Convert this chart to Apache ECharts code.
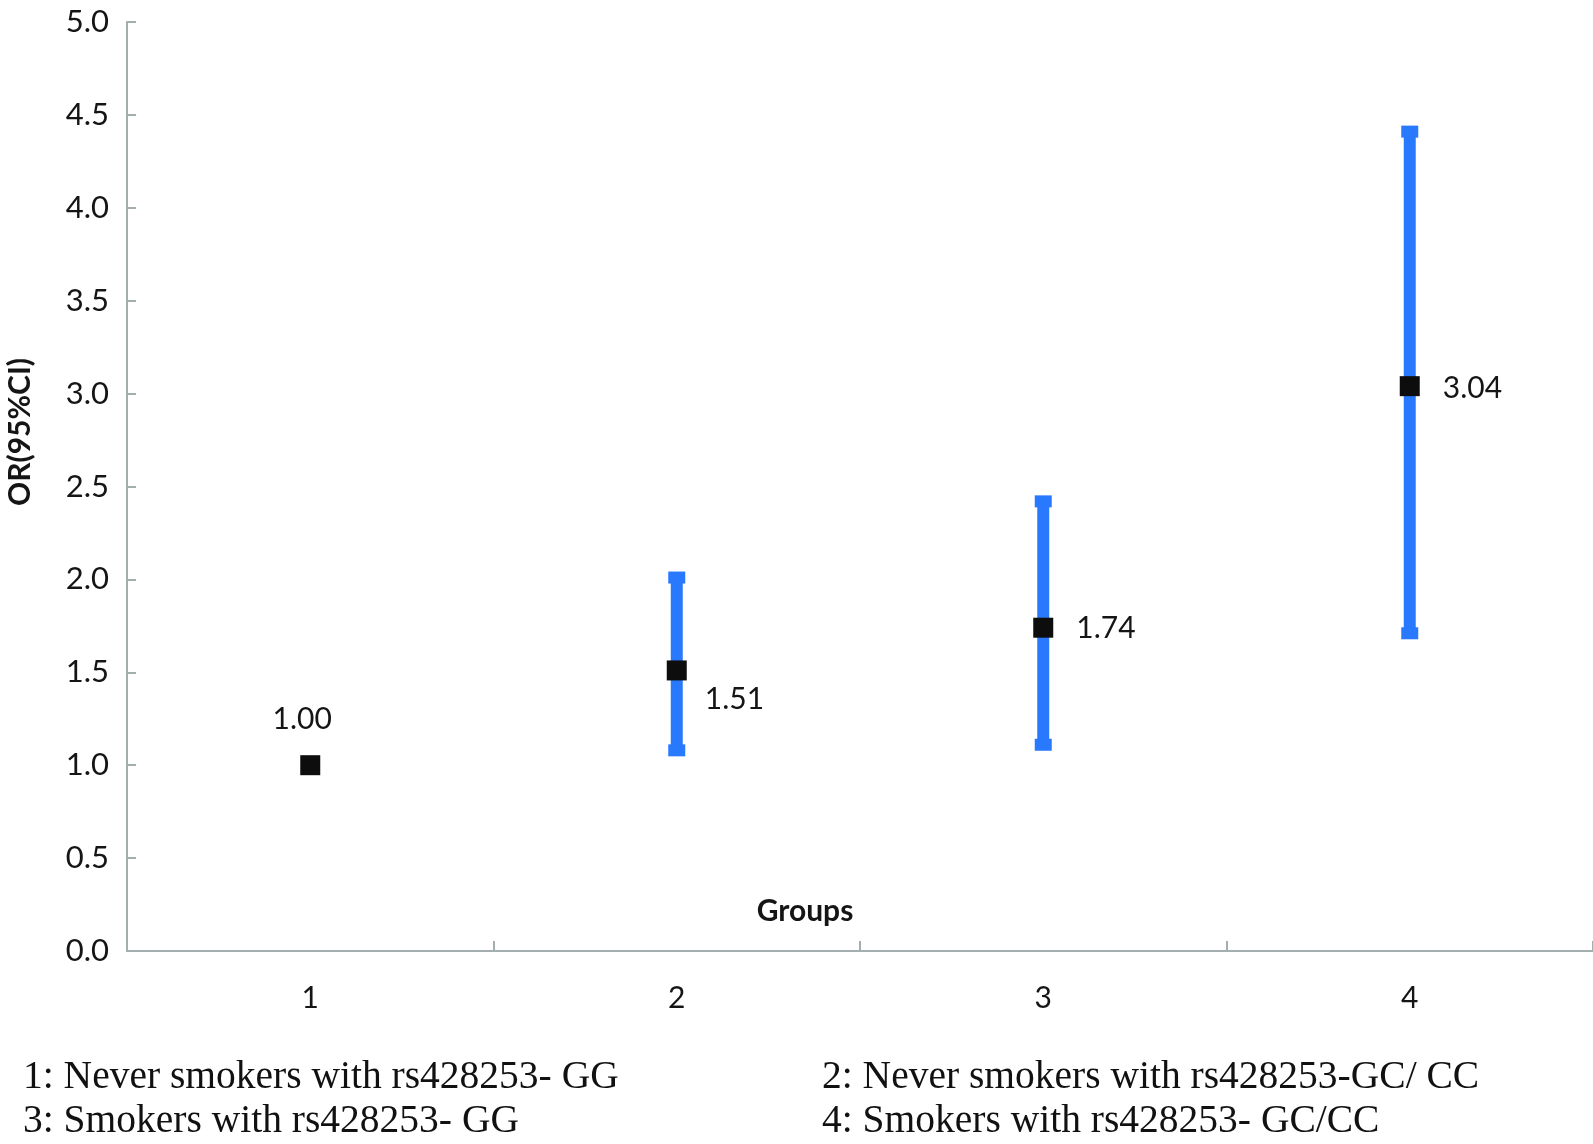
<!DOCTYPE html>
<html>
<head>
<meta charset="utf-8">
<script src="https://cdn.jsdelivr.net/npm/echarts@6/dist/echarts.min.js"></script>
<style>
html,body{margin:0;padding:0;background:#fff;}
#chart{width:1593px;height:1144px;}
</style>
</head>
<body>
<div id="chart"></div>
<script>
// ---- data ----
const categories = ['1', '2', '3', '4'];
const orValues = [1.00, 1.51, 1.74, 3.04];
const ciLower = [null, 1.08, 1.11, 1.71];
const ciUpper = [null, 2.01, 2.42, 4.41];
const valueLabels = ['1.00', '1.51', '1.74', '3.04'];
const yMin = 0, yMax = 5, yStep = 0.5;
const yAxisTitle = 'OR(95%CI)';
const xAxisTitle = 'Groups';
const notesLeft = ['1: Never smokers with rs428253- GG', '3: Smokers with rs428253- GG'];
const notesRight = ['2: Never smokers with rs428253-GC/ CC', '4: Smokers with rs428253- GC/CC'];

// ---- chart ----
const chart = echarts.init(document.getElementById('chart'));
const axisColor = '#a3aeae';
const textColor = '#151515';
const barColor = '#2979ff';

const ciData = categories.map((c, i) => ciLower[i] == null ? null : [i, ciLower[i], ciUpper[i]]).filter(d => d);

const labelCfg = [
  {position: 'top', distance: 21, offset: [-8, 0]},
  {position: 'right', distance: 18, offset: [0, 29]},
  {position: 'right', distance: 23, offset: [0, 1]},
  {position: 'right', distance: 23, offset: [0, 2]}
];

const scatterData = orValues.map((v, i) => ({
  value: [i, v],
  label: Object.assign({show: true, formatter: valueLabels[i], color: textColor}, labelCfg[i])
}));

const graphicTexts = [];
notesLeft.forEach((t, i) => graphicTexts.push({
  type: 'text', left: 23, top: 1058 + i * 44,
  style: {text: t, font: '39.5px "Liberation Serif"', fill: '#111'}
}));
notesRight.forEach((t, i) => graphicTexts.push({
  type: 'text', left: 822, top: 1058 + i * 44,
  style: {text: t, font: '39.5px "Liberation Serif"', fill: '#111'}
}));
graphicTexts.push({
  type: 'text', x: 805, y: 911,
  style: {text: xAxisTitle, font: 'bold 30px Lato', fill: textColor, align: 'center', verticalAlign: 'middle'}
});
graphicTexts.push({
  type: 'text', x: 20, y: 432, rotation: Math.PI / 2,
  style: {text: yAxisTitle, font: 'bold 30px Lato', fill: textColor, align: 'center', verticalAlign: 'middle'}
});

chart.setOption({
  animation: false,
  backgroundColor: '#fff',
  grid: {left: 127, right: 0, top: 22, bottom: 193, containLabel: false},
  xAxis: {
    type: 'category',
    data: categories,
    boundaryGap: true,
    axisLine: {lineStyle: {color: axisColor, width: 2}},
    axisTick: {show: true, inside: true, length: 10, lineStyle: {color: axisColor, width: 2}},
    axisLabel: {color: textColor, fontFamily: 'Lato', fontSize: 30, margin: 32},
    splitLine: {show: false}
  },
  yAxis: {
    type: 'value',
    min: yMin, max: yMax, interval: yStep,
    axisLine: {show: true, lineStyle: {color: axisColor, width: 2}},
    axisTick: {show: true, inside: true, length: 9, lineStyle: {color: axisColor, width: 2}},
    axisLabel: {color: textColor, fontFamily: 'Lato', fontSize: 31, margin: 18, formatter: v => v.toFixed(1)},
    splitLine: {show: false}
  },
  graphic: graphicTexts,
  series: [
    {
      type: 'custom',
      data: ciData,
      z: 2,
      renderItem: function (params, api) {
        const x = api.coord([api.value(0), 0])[0];
        const lo = api.coord([api.value(0), api.value(1)])[1];
        const hi = api.coord([api.value(0), api.value(2)])[1];
        const bw = 12, cw = 17, ch = 12;
        return {
          type: 'group',
          children: [
            {type: 'rect', shape: {x: x - bw / 2, y: hi, width: bw, height: lo - hi}, style: {fill: barColor}},
            {type: 'rect', shape: {x: x - cw / 2, y: hi - ch / 2, width: cw, height: ch}, style: {fill: barColor}},
            {type: 'rect', shape: {x: x - cw / 2, y: lo - ch / 2, width: cw, height: ch}, style: {fill: barColor}}
          ]
        };
      }
    },
    {
      type: 'scatter',
      data: scatterData,
      symbol: 'rect',
      symbolSize: 20,
      z: 3,
      itemStyle: {color: '#0d0d0d', opacity: 1},
      label: {color: textColor, fontFamily: 'Lato', fontSize: 30}
    }
  ]
});
</script>
</body>
</html>
